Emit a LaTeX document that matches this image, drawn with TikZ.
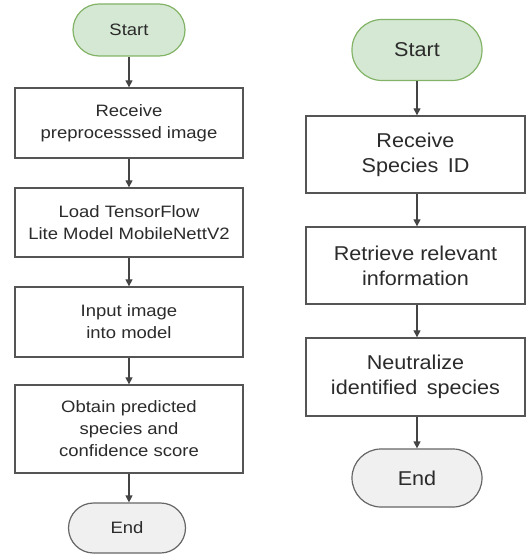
\documentclass[tikz,border=0pt]{standalone}
\usepackage{fontspec}
\newfontfamily\lfont[FakeStretch=1.12]{Liberation Sans}
\newfontfamily\rfont[FakeStretch=1.08]{Liberation Sans}
\usetikzlibrary{arrows.meta}
\definecolor{gfill}{HTML}{D5E8D4}
\definecolor{gline}{HTML}{82B366}
\definecolor{efill}{HTML}{F0F0F0}
\definecolor{eline}{HTML}{666666}
\definecolor{bline}{HTML}{555555}
\definecolor{txt}{HTML}{2B2B2B}
\tikzset{
  lstyle/.style={font=\lfont\fontsize{16.5}{22}\selectfont, text=txt, align=center},
  rstyle/.style={font=\rfont\fontsize{20}{25}\selectfont, text=txt, align=center},
  procbox/.style={draw=bline, line width=1.3pt, fill=white, inner sep=0pt},
  startbox/.style={draw=gline, line width=1.2pt, fill=gfill, inner sep=0pt},
  endbox/.style={draw=eline, line width=1.2pt, fill=efill, inner sep=0pt},
  conn/.style={draw=bline!80!black, line width=1.2pt, -{Triangle[length=7pt,width=7pt]}}
}
\begin{document}
\begin{tikzpicture}[x=1pt,y=-1pt]
\useasboundingbox (0,0) rectangle (527,556);
% left column
\node[startbox, lstyle, minimum width=112pt, minimum height=52pt, rounded corners=26pt] (ls) at (129,30) {Start};
\node[procbox, lstyle, minimum width=228pt, minimum height=70pt] (l1) at (129,123) {Receive\\preprocesssed image};
\node[procbox, lstyle, minimum width=228pt, minimum height=69pt] (l2) at (129,222.5) {Load TensorFlow\\Lite Model MobileNettV2};
\node[procbox, lstyle, minimum width=228pt, minimum height=70pt] (l3) at (129,322) {Input image\\into model};
\node[procbox, lstyle, minimum width=228pt, minimum height=88pt] (l4) at (129,429) {Obtain predicted\\species and\\confidence score};
\node[endbox, lstyle, minimum width=117pt, minimum height=50pt, rounded corners=25pt] (le) at (127,528) {End};
\draw[conn] (ls.south -| l1) -- (l1.north);
\draw[conn] (l1) -- (l2);
\draw[conn] (l2) -- (l3);
\draw[conn] (l3) -- (l4);
\draw[conn] (l4.south) -- (l4.south |- le.north);
% right column
\node[startbox, rstyle, minimum width=130pt, minimum height=61pt, rounded corners=30pt] (rs) at (417,50) {Start};
\node[procbox, rstyle, minimum width=219pt, minimum height=77pt] (r1) at (415.5,154.5) {Receive\\Species\, ID};
\node[procbox, rstyle, minimum width=219pt, minimum height=77pt] (r2) at (415.5,265.5) {Retrieve relevant\\information};
\node[procbox, rstyle, minimum width=219pt, minimum height=78pt] (r3) at (415.5,377) {Neutralize\\identified\, species};
\node[endbox, rstyle, minimum width=130pt, minimum height=58pt, rounded corners=29pt] (re) at (417,478) {End};
\draw[conn] (rs.south) -- (rs.south |- r1.north);
\draw[conn] (rs.south |- r1.south) -- (rs.south |- r2.north);
\draw[conn] (rs.south |- r2.south) -- (rs.south |- r3.north);
\draw[conn] (rs.south |- r3.south) -- (re.north);
\end{tikzpicture}
\end{document}
